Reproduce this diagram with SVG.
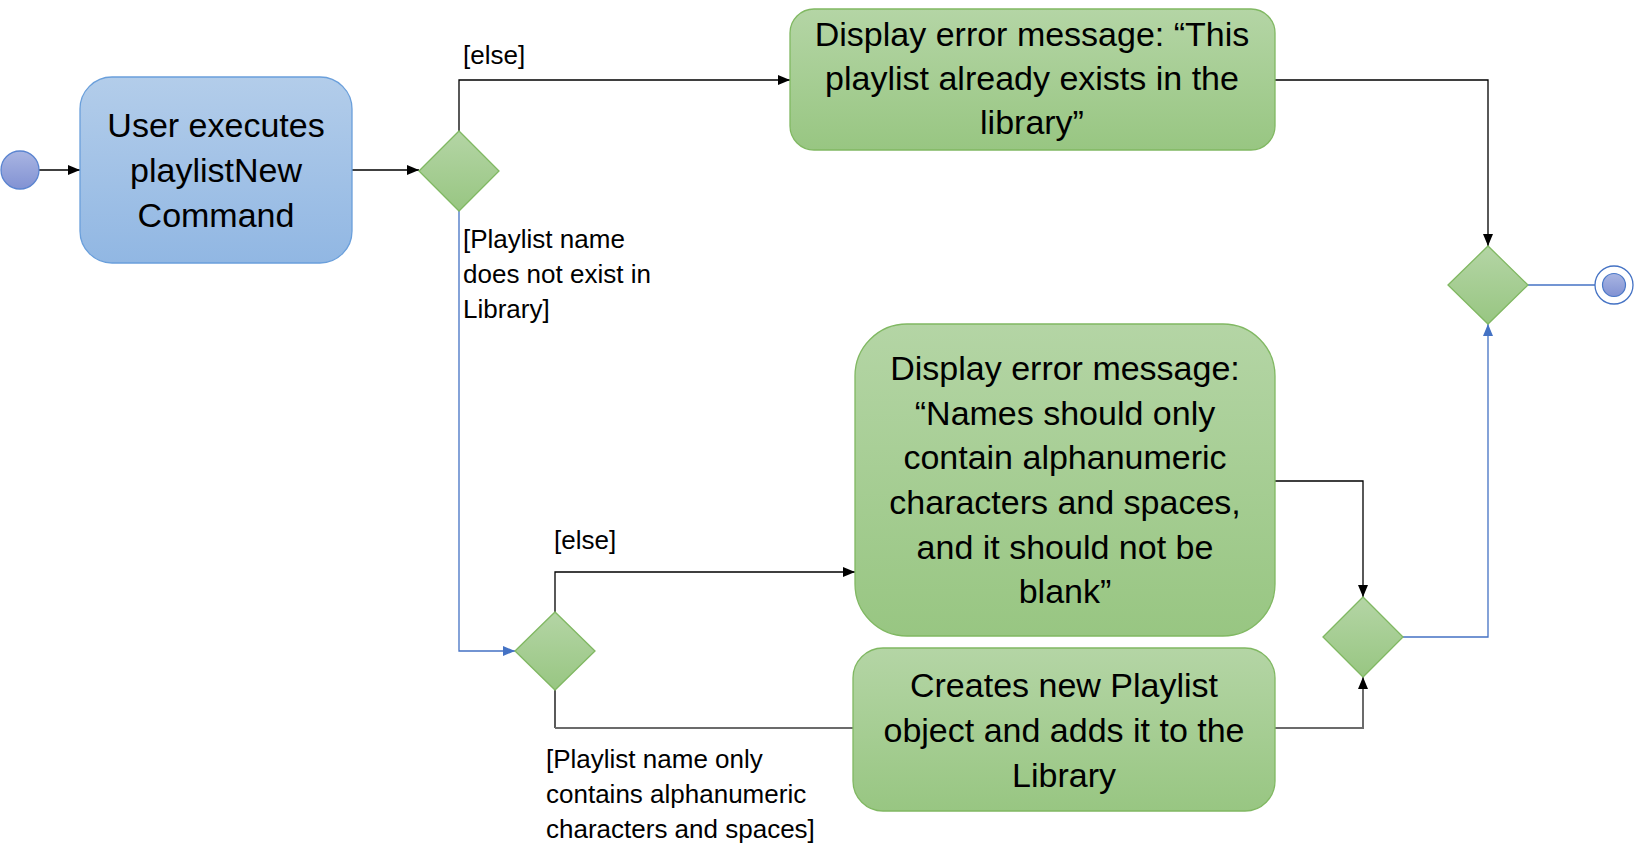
<svg xmlns="http://www.w3.org/2000/svg" width="1634" height="865" viewBox="0 0 1634 865">
<defs>
<linearGradient id="gGreen" x1="0" y1="0" x2="0" y2="1"><stop offset="0" stop-color="#b4d5a5"/><stop offset="1" stop-color="#98c682"/></linearGradient>
<linearGradient id="gBlue" x1="0" y1="0" x2="0" y2="1"><stop offset="0" stop-color="#b3cdea"/><stop offset="1" stop-color="#91b7e3"/></linearGradient>
<linearGradient id="gDot" x1="0" y1="0" x2="0" y2="1"><stop offset="0" stop-color="#a9b5e2"/><stop offset="1" stop-color="#8292d3"/></linearGradient>
<marker id="aBlack" viewBox="0 0 12 10" refX="12" refY="5" markerWidth="12" markerHeight="10" markerUnits="userSpaceOnUse" orient="auto"><path d="M0,0 L12,5 L0,10 Z" fill="#000"/></marker>
<marker id="aBlue" viewBox="0 0 12 10" refX="12" refY="5" markerWidth="12" markerHeight="10" markerUnits="userSpaceOnUse" orient="auto"><path d="M0,0 L12,5 L0,10 Z" fill="#4472c4"/></marker>
<style>
.act{fill:url(#gGreen);stroke:#80b862;stroke-width:1.3}
.blue{fill:url(#gBlue);stroke:#6a9fdb;stroke-width:1.3}
.dia{fill:url(#gGreen);stroke:#80b862;stroke-width:1.3}
.t{font-family:"Liberation Sans",Arial,sans-serif;font-size:34px;fill:#000;text-anchor:middle}
.lbl{font-family:"Liberation Sans",Arial,sans-serif;font-size:26px;fill:#000}
.c{fill:none;stroke:#000;stroke-width:1.3}
.cg{fill:none;stroke:#6b6b6b;stroke-width:2}
.cb{fill:none;stroke:#4472c4;stroke-width:1.3}
</style>
</defs>
<g id="connectors">
<path class="c" d="M39,170 H80" stroke="#555" marker-end="url(#aBlack)"/>
<path class="c" d="M352,170 H419" marker-end="url(#aBlack)"/>
<path class="c" d="M459,131 V80 H790" marker-end="url(#aBlack)"/>
<path class="c" d="M1275,80 H1488 V246" marker-end="url(#aBlack)"/>
<path class="cb" d="M459,211 V651 H515" marker-end="url(#aBlue)"/>
<path class="c" d="M555,612 V572 H855" marker-end="url(#aBlack)"/>
<path class="c" d="M555,690 V728"/>
<path class="cg" d="M555,728 H853"/>
<path class="cg" d="M1275,728 H1363 V677" marker-end="url(#aBlack)"/>
<path class="c" d="M1275,481 H1363 V597" marker-end="url(#aBlack)"/>
<path class="cb" d="M1403,637 H1488 V324" marker-end="url(#aBlue)"/>
<path class="cb" d="M1528,285 H1595"/>
</g>
<g id="labels">
<text class="lbl" x="463" y="64">[else]</text>
<text class="lbl" x="463" y="248">[Playlist name</text>
<text class="lbl" x="463" y="283">does not exist in</text>
<text class="lbl" x="463" y="318">Library]</text>
<text class="lbl" x="554" y="549">[else]</text>
<text class="lbl" x="546" y="768">[Playlist name only</text>
<text class="lbl" x="546" y="803">contains alphanumeric</text>
<text class="lbl" x="546" y="838">characters and spaces]</text>
</g>
<g id="start"><circle cx="20" cy="170" r="19" fill="url(#gDot)" stroke="#5a84d0" stroke-width="1.3"/></g>
<g id="userExecutes">
<rect class="blue" x="80" y="77" width="272" height="186" rx="32"/>
<text class="t" x="216" y="137">User executes</text>
<text class="t" x="216" y="182">playlistNew</text>
<text class="t" x="216" y="227">Command</text>
</g>
<g id="decision1"><polygon class="dia" points="419,171 459,131 499,171 459,211"/></g>
<g id="errorExists">
<rect class="act" x="790" y="9" width="485" height="141" rx="24"/>
<text class="t" x="1032" y="46">Display error message: “This</text>
<text class="t" x="1032" y="90">playlist already exists in the</text>
<text class="t" x="1032" y="134">library”</text>
</g>
<g id="decision2"><polygon class="dia" points="515,651 555,612 595,651 555,690"/></g>
<g id="errorInvalid">
<rect class="act" x="855" y="324" width="420" height="312" rx="52"/>
<text class="t" x="1065" y="380">Display error message:</text>
<text class="t" x="1065" y="425">“Names should only</text>
<text class="t" x="1065" y="469">contain alphanumeric</text>
<text class="t" x="1065" y="514">characters and spaces,</text>
<text class="t" x="1065" y="559">and it should not be</text>
<text class="t" x="1065" y="603">blank”</text>
</g>
<g id="createPlaylist">
<rect class="act" x="853" y="648" width="422" height="163" rx="30"/>
<text class="t" x="1064" y="697">Creates new Playlist</text>
<text class="t" x="1064" y="742">object and adds it to the</text>
<text class="t" x="1064" y="787">Library</text>
</g>
<g id="merge1"><polygon class="dia" points="1323,637 1363,597 1403,637 1363,677"/></g>
<g id="merge2"><polygon class="dia" points="1448,285 1488,246 1528,285 1488,324"/></g>
<g id="end">
<circle cx="1614" cy="285" r="19" fill="#fff" stroke="#4472c4" stroke-width="1.3"/>
<circle cx="1614" cy="285" r="11.5" fill="url(#gDot)" stroke="#4a78c8" stroke-width="1.2"/>
</g>
</svg>
